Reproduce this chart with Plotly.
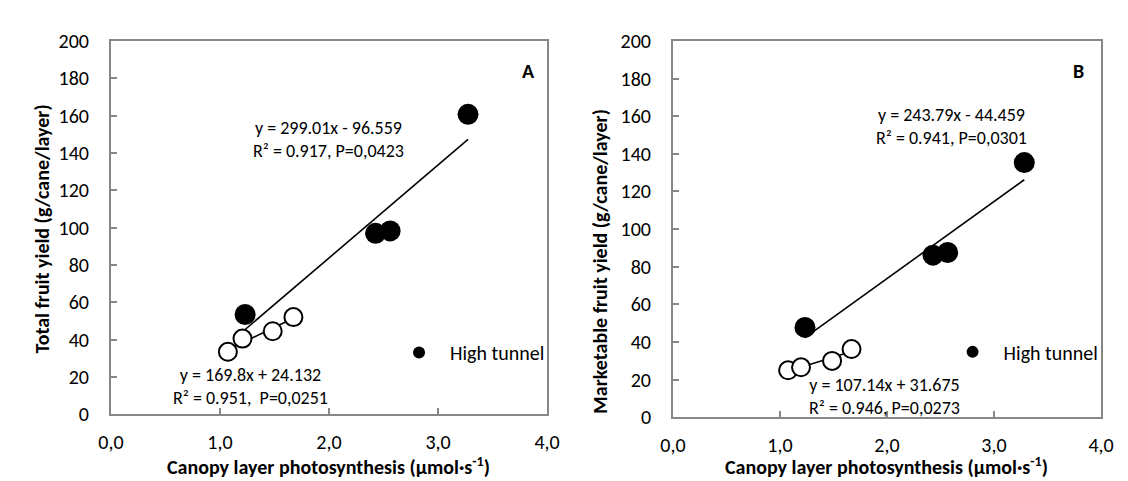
import numpy as np
import plotly.graph_objects as go

# ---- data ----
xA_open = [1.073, 1.207, 1.484, 1.674]
yA_open = [33.5, 40.6, 44.5, 52.1]
xA_filled = [1.231, 2.427, 2.561, 3.275]
yA_filled = [53.5, 97.0, 98.3, 160.8]

xB_open = [1.076, 1.197, 1.487, 1.669]
yB_open = [24.9, 26.5, 29.9, 36.2]
xB_filled = [1.234, 2.43, 2.567, 3.283]
yB_filled = [47.7, 86.1, 87.5, 135.3]

x_tickvals = [0, 1, 2, 3, 4]
x_ticktext = ["0,0", "1,0", "2,0", "3,0", "4,0"]
y_tickvals = list(range(0, 201, 20))

eqA_hi = ["y = 299.01x - 96.559", "R\u00b2 = 0.917, P=0,0423"]
eqA_lo = ["y = 169.8x + 24.132", "R\u00b2 = 0.951,  P=0,0251"]
eqB_hi = ["y = 243.79x - 44.459", "R\u00b2 = 0.941, P=0,0301"]
eqB_lo = ["y = 107.14x + 31.675", "R\u00b2 = 0.946, P=0,0273"]

FONT = "Calibri, Carlito, Lato, sans-serif"
GREY = "#878787"
W, H = 1128, 481
FS = 20


def fit_line(x, y):
    k, b = np.polyfit(x, y, 1)
    xs = np.array([min(x), max(x)])
    return xs, k * xs + b


fig = go.Figure()

panels = [
    ("x", "y", xA_open, yA_open, xA_filled, yA_filled, "legend"),
    ("x2", "y2", xB_open, yB_open, xB_filled, yB_filled, "legend2"),
]
for xa, ya, xo, yo, xf, yf, lg in panels:
    lx, ly = fit_line(xf, yf)
    fig.add_trace(go.Scatter(x=lx, y=ly, mode="lines", xaxis=xa, yaxis=ya,
                             line=dict(color="black", width=1.6), showlegend=False))
    lx, ly = fit_line(xo, yo)
    fig.add_trace(go.Scatter(x=lx, y=ly, mode="lines", xaxis=xa, yaxis=ya,
                             line=dict(color="black", width=1.6), showlegend=False))
    fig.add_trace(go.Scatter(x=xo, y=yo, mode="markers", xaxis=xa, yaxis=ya,
                             marker=dict(size=18, color="white", line=dict(color="black", width=2)),
                             showlegend=False))
    fig.add_trace(go.Scatter(x=xf, y=yf, mode="markers", xaxis=xa, yaxis=ya,
                             marker=dict(size=21, color="black"),
                             name="High tunnel", legend=lg))

axis_common = dict(showline=True, linecolor=GREY, linewidth=1.8, mirror=True,
                   ticks="inside", ticklen=6, tickcolor=GREY, tickwidth=1.5,
                   showgrid=False, zeroline=False,
                   tickfont=dict(family=FONT, size=FS, color="black"))

fig.update_layout(
    width=W, height=H,
    margin=dict(l=0, r=0, t=0, b=0),
    plot_bgcolor="white", paper_bgcolor="white",
    xaxis=dict(domain=[92 / W, 538.5 / W], range=[0, 4], tickvals=x_tickvals,
               ticktext=x_ticktext, anchor="y", ticklabelstandoff=9, **axis_common),
    yaxis=dict(domain=[(H - 415) / H, (H - 22.3) / H], range=[0, 200], tickvals=y_tickvals,
               anchor="x", ticklabelstandoff=16, **axis_common),
    xaxis2=dict(domain=[667.3 / W, 1105.5 / W], range=[0, 4], tickvals=x_tickvals,
                ticktext=x_ticktext, anchor="y2", ticklabelstandoff=9, **axis_common),
    yaxis2=dict(domain=[(H - 418) / H, (H - 22) / H], range=[0, 200], tickvals=y_tickvals,
                anchor="x2", ticklabelstandoff=16, **axis_common),
    legend=dict(x=375.7 / W, y=(H - 350) / H, xanchor="left", yanchor="middle",
                bgcolor="rgba(0,0,0,0)", itemsizing="constant", itemwidth=52,
                font=dict(family=FONT, size=FS, color="black")),
    legend2=dict(x=942.3 / W, y=(H - 349.3) / H, xanchor="left", yanchor="middle",
                 bgcolor="rgba(0,0,0,0)", itemsizing="constant", itemwidth=52,
                 font=dict(family=FONT, size=FS, color="black")),
)

ann = []
def txt(text, x, y, xref, yref, size=FS, bold=False, angle=0):
    ann.append(dict(text=f"<b>{text}</b>" if bold else text, x=x, y=y, xref=xref, yref=yref,
                    showarrow=False, xanchor="center", yanchor="middle", textangle=angle,
                    align="center", font=dict(family=FONT, size=size, color="black")))

EQ = 18
txt("<br>".join(eqA_hi), 2.0, 147.45, "x", "y", size=EQ)
txt("<br>".join(eqA_lo), 1.281, 15.15, "x", "y", size=EQ)
txt("<br>".join(eqB_hi), 2.604, 154.55, "x2", "y2", size=EQ)
txt("<br>".join(eqB_lo), 1.974, 11.15, "x2", "y2", size=EQ)
txt("A", 3.83, 183.8, "x", "y", size=20, bold=True)
txt("B", 3.79, 183.8, "x2", "y2", size=20, bold=True)

xtitle = "Canopy layer photosynthesis (\u00b5mol\u00b7s<sup>-1</sup>)"
txt(xtitle, 315 / W, (H - 469) / H, "paper", "paper", size=20, bold=True)
txt(xtitle, 886 / W, (H - 469) / H, "paper", "paper", size=20, bold=True)
txt("Total fruit yield (g/cane/layer)", 22 / W, (H - 220) / H, "paper", "paper", size=20, bold=True, angle=-90)
txt("Marketable fruit yield (g/cane/layer)", 593 / W, (H - 254) / H, "paper", "paper", size=20, bold=True, angle=-90)

fig.update_layout(annotations=ann)
fig.write_html("out.html")
